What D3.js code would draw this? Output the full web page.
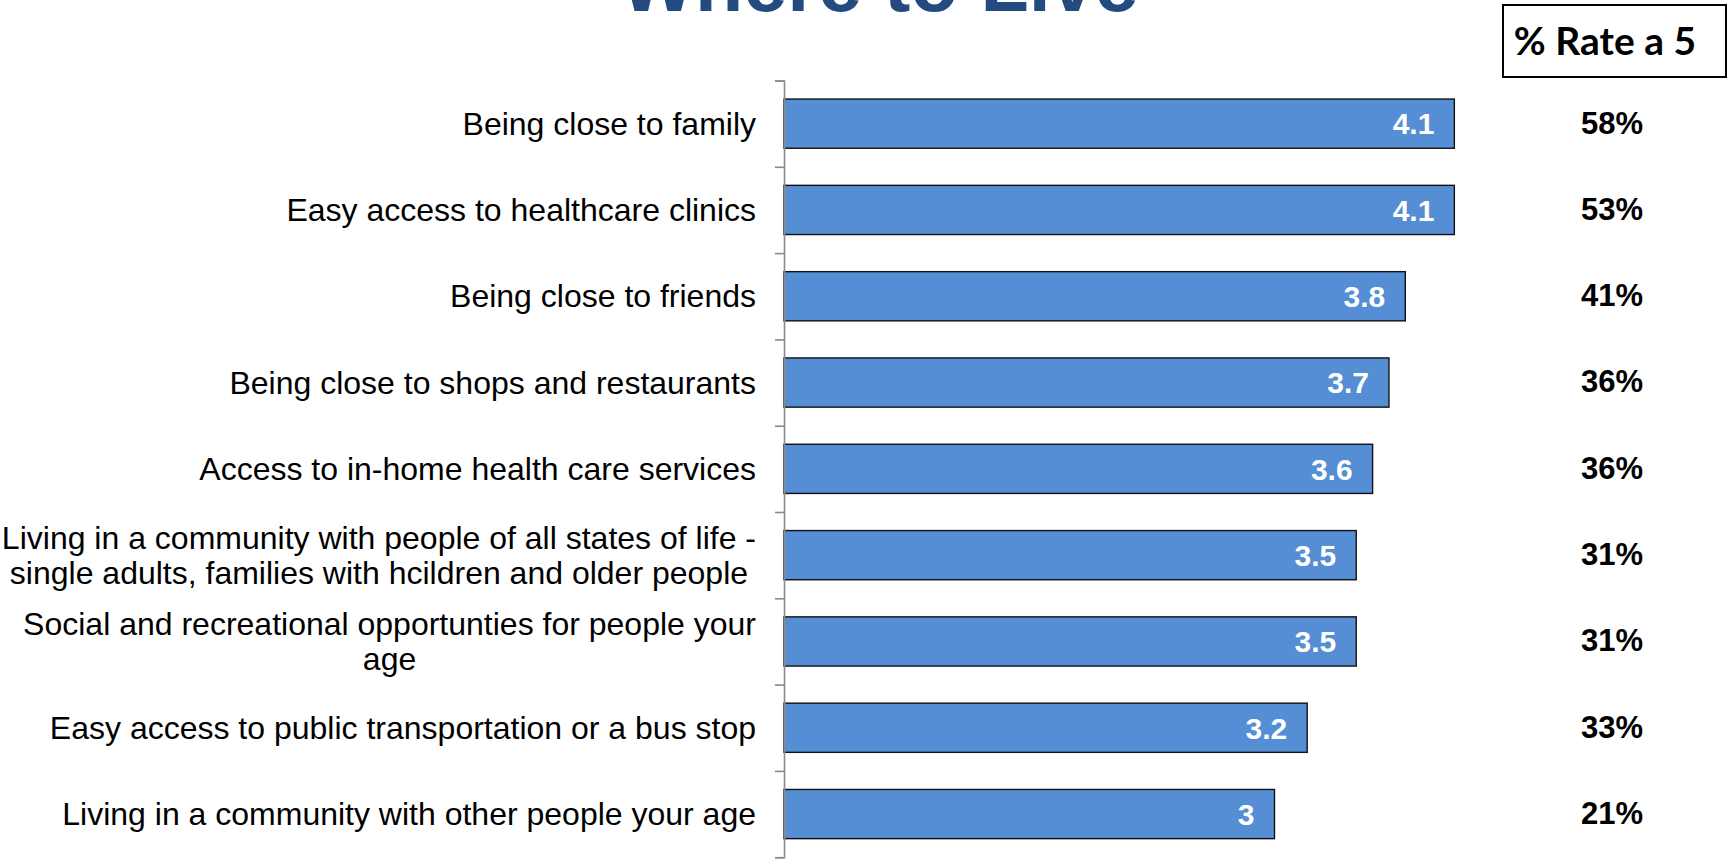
<!DOCTYPE html>
<html>
<head>
<meta charset="utf-8">
<script src="https://cdn.jsdelivr.net/npm/d3@7"></script>
<style>
  html, body { margin: 0; padding: 0; background: #fff; }
  svg { display: block; }
</style>
</head>
<body>
<svg id="chart" width="1729" height="865"></svg>
<script>
const categories = [
  "Being close to family",
  "Easy access to healthcare clinics",
  "Being close to friends",
  "Being close to shops and restaurants",
  "Access to in-home health care services",
  "Living in a community with people of all states of life -|single adults, families with hcildren and older people",
  "Social and recreational opportunties for people your|age",
  "Easy access to public transportation or a bus stop",
  "Living in a community with other people your age"
];
const meanScores = [4.1, 4.1, 3.8, 3.7, 3.6, 3.5, 3.5, 3.2, 3];
const rateAFive = ["58%", "53%", "41%", "36%", "36%", "31%", "31%", "33%", "21%"];
const titleText = "Where to Live";
const columnHeader = "% Rate a 5";

const svg = d3.select("#chart");
const axisX = 784, plotTop = 80.5, plotBottom = 857.2;

const x = d3.scaleLinear().domain([0, 5]).range([axisX, axisX + 5 * 163.5]);
const y = d3.scaleBand().domain(categories).range([plotTop, plotBottom])
  .paddingInner(0.43).paddingOuter(0.215);
const tickScale = d3.scaleLinear().domain([0, categories.length]).range([plotTop, plotBottom]);

// Title (cut off at top of the frame, as in the original slide)
svg.append("text")
  .attr("x", 879.5).attr("y", 11)
  .attr("text-anchor", "middle")
  .attr("font-family", "Liberation Sans, Arial, sans-serif")
  .attr("font-weight", "bold")
  .attr("font-size", 79)
  .attr("fill", "#234b80")
  .text(titleText);

// Bars
svg.append("g").selectAll("rect").data(categories).join("rect")
  .attr("x", x(0))
  .attr("y", d => y(d))
  .attr("width", (d, i) => x(meanScores[i]) - x(0))
  .attr("height", y.bandwidth())
  .attr("fill", "#558ed5")
  .attr("stroke", "#111")
  .attr("stroke-width", 1.4);

// Axis
const axis = svg.append("g")
  .attr("transform", `translate(${axisX},0)`)
  .call(d3.axisLeft(tickScale).tickValues(d3.range(categories.length + 1)).tickSize(9).tickFormat(""));
axis.select(".domain").attr("stroke", "#8a8a8a").attr("stroke-width", 1.6);
axis.selectAll(".tick line").attr("stroke", "#8a8a8a").attr("stroke-width", 1.6);

// Value labels
svg.append("g").selectAll("text").data(categories).join("text")
  .attr("x", (d, i) => x(meanScores[i]) - 20)
  .attr("y", d => y(d) + y.bandwidth() / 2)
  .attr("dy", "0.36em")
  .attr("text-anchor", "end")
  .attr("font-family", "Liberation Sans, Arial, sans-serif")
  .attr("font-weight", "bold")
  .attr("font-size", 30)
  .attr("fill", "#fff")
  .text((d, i) => String(meanScores[i]));

// Category labels
const labelRight = 756, lineH = 35;
const labelG = svg.append("g");
categories.forEach(cat => {
  const lines = cat.split("|");
  const cy = y(cat) + y.bandwidth() / 2;
  const t = labelG.append("text")
    .attr("font-family", "Liberation Sans, Arial, sans-serif")
    .attr("font-size", 32)
    .attr("fill", "#000")
    .attr("text-anchor", "middle");
  const spans = lines.map((ln, k) => t.append("tspan")
    .attr("y", cy + (k - (lines.length - 1) / 2) * lineH)
    .attr("dy", "0.35em")
    .text(ln));
  const maxW = d3.max(spans, s => s.node().getComputedTextLength());
  spans.forEach(s => s.attr("x", labelRight - maxW / 2));
});

// Column header box
const hb = svg.append("g");
hb.append("rect")
  .attr("x", 1503).attr("y", 5).attr("width", 223).attr("height", 72)
  .attr("fill", "#fff").attr("stroke", "#000").attr("stroke-width", 2);
hb.append("text")
  .attr("x", 1605).attr("y", 55)
  .attr("text-anchor", "middle")
  .attr("font-family", "Lato, Carlito, sans-serif")
  .attr("font-weight", "bold")
  .attr("font-size", 39)
  .attr("fill", "#000")
  .text(columnHeader);

// % Rate a 5 column
svg.append("g").selectAll("text").data(categories).join("text")
  .attr("x", 1612)
  .attr("y", d => y(d) + y.bandwidth() / 2)
  .attr("dy", "0.32em")
  .attr("text-anchor", "middle")
  .attr("font-family", "Liberation Sans, Arial, sans-serif")
  .attr("font-weight", "bold")
  .attr("font-size", 31)
  .attr("fill", "#000")
  .text((d, i) => rateAFive[i]);
</script>
</body>
</html>
